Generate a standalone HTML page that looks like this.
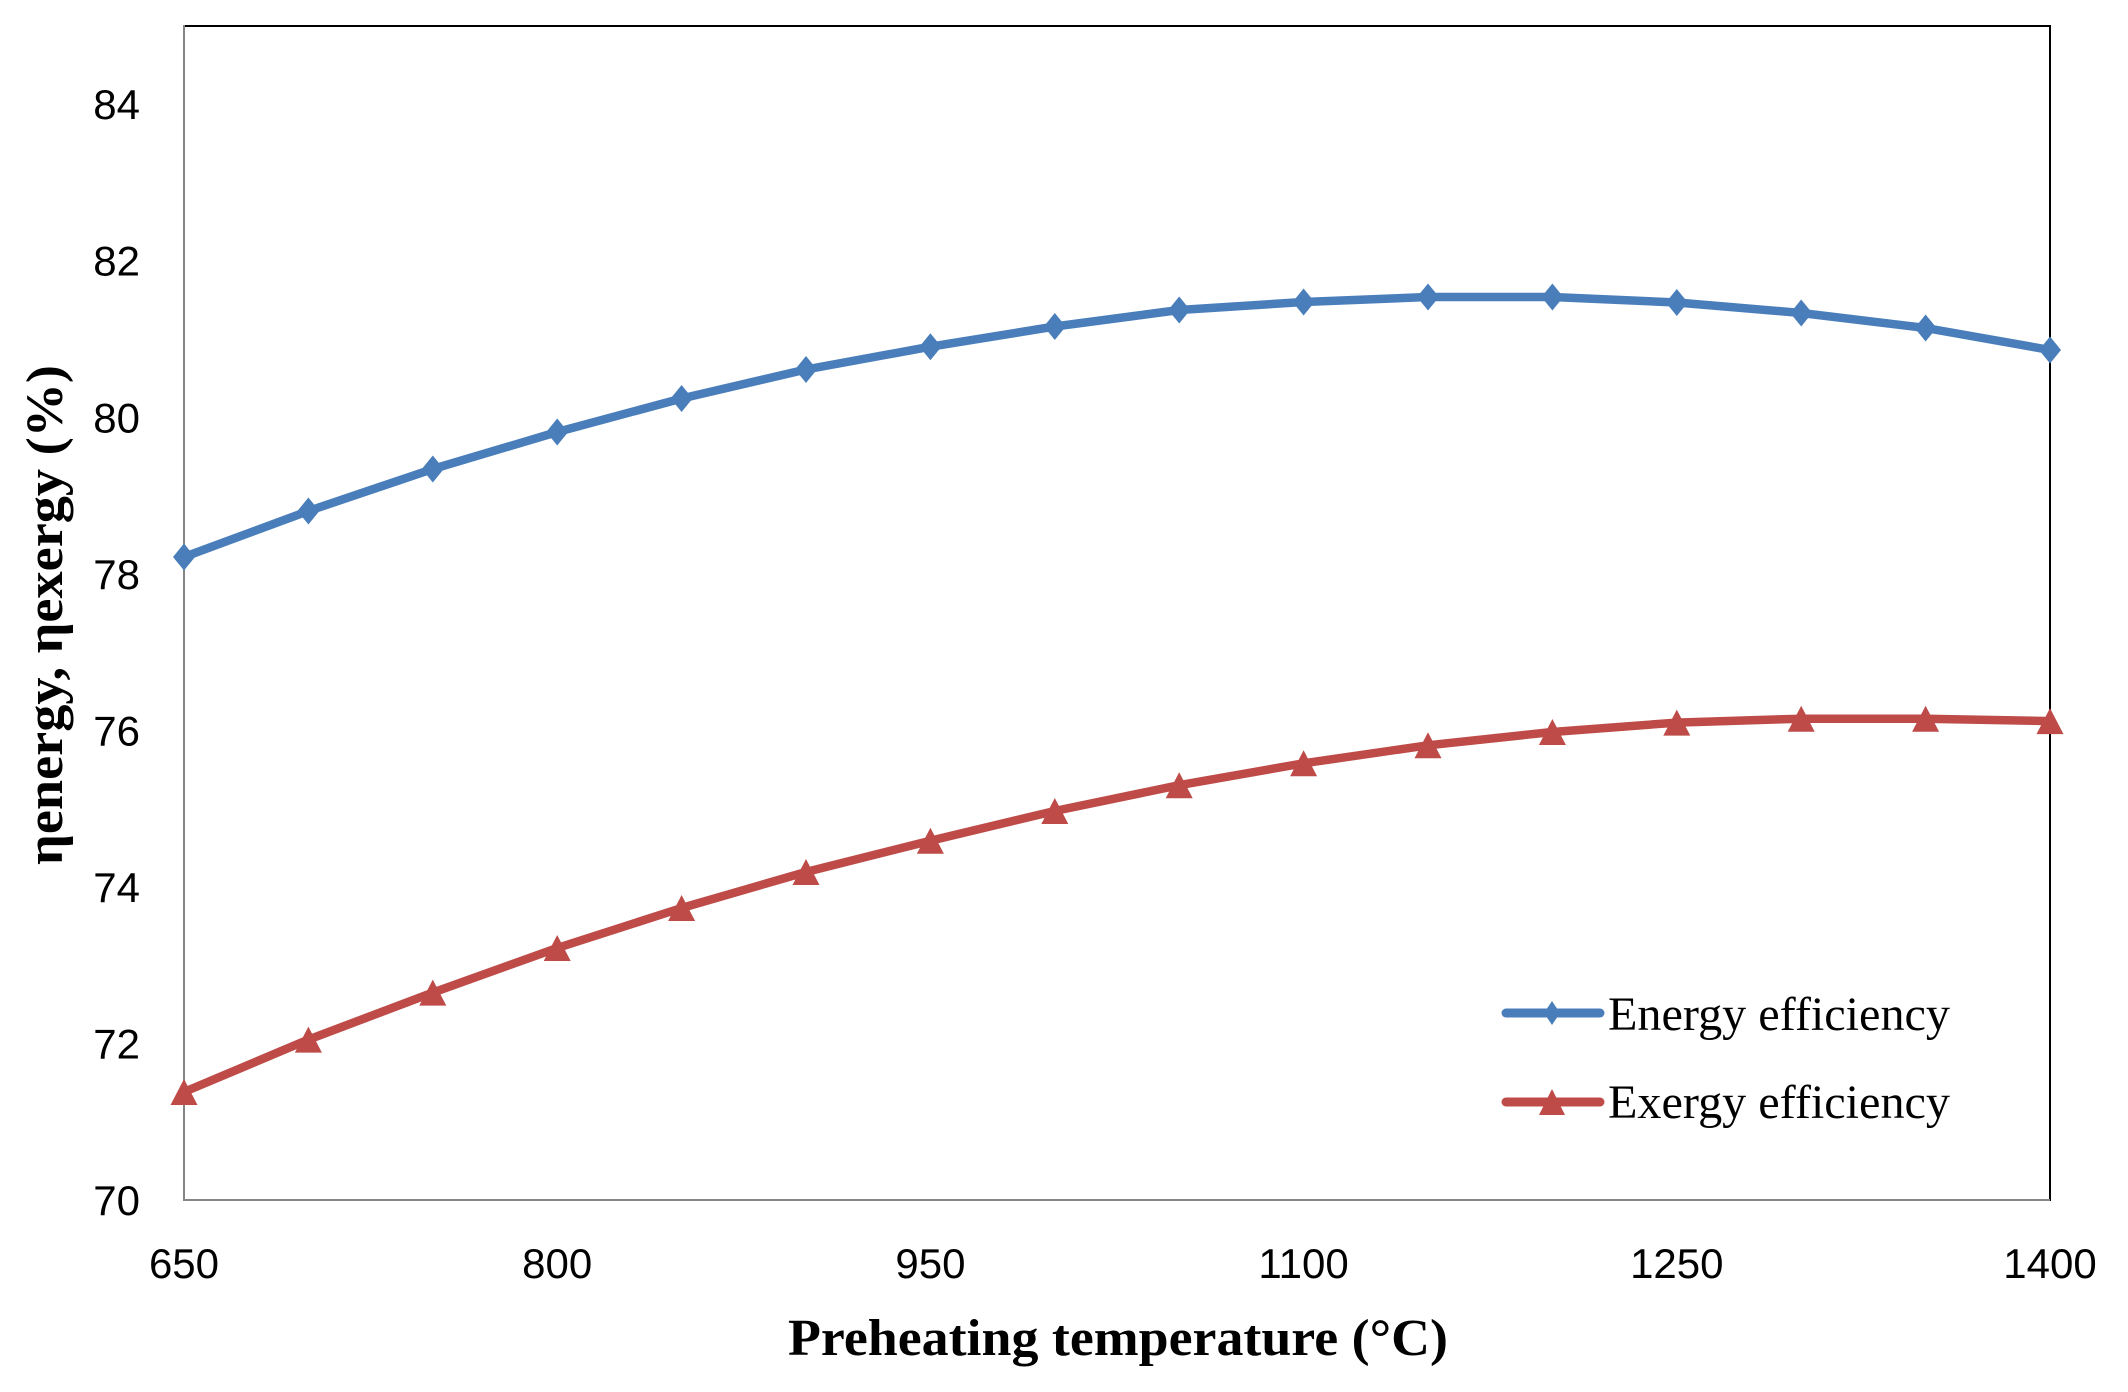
<!DOCTYPE html>
<html>
<head>
<meta charset="utf-8">
<style>
html,body{margin:0;padding:0;background:#fff;}
svg{display:block;}
.tick{font-family:"Liberation Sans",sans-serif;font-size:42px;fill:#000;}
.title{font-family:"Liberation Serif",serif;font-weight:bold;font-size:52px;fill:#000;}
.leg{font-family:"Liberation Serif",serif;font-size:48px;fill:#000;}
</style>
</head>
<body>
<svg width="2128" height="1392" viewBox="0 0 2128 1392" xmlns="http://www.w3.org/2000/svg">
<defs>
  <path id="dia" d="M0,-13.5 L11,0 L0,13.5 L-11,0 Z" fill="#4A7EBB"/>
  <path id="tri" d="M0,-13 L13.5,13 L-13.5,13 Z" fill="#BE4B48"/>
</defs>
<rect width="2128" height="1392" fill="#fff"/>

<!-- plot border: top/right black, left/bottom gray axes -->
<line x1="184" y1="26" x2="2051" y2="26" stroke="#000" stroke-width="2"/>
<line x1="2050" y1="26" x2="2050" y2="1201" stroke="#000" stroke-width="2"/>
<line x1="184" y1="25" x2="184" y2="1201" stroke="#868686" stroke-width="2"/>
<line x1="183" y1="1200" x2="2050" y2="1200" stroke="#868686" stroke-width="2"/>

<!-- y tick labels -->
<g class="tick" text-anchor="end">
  <text x="140" y="1215">70</text>
  <text x="140" y="1058.5">72</text>
  <text x="140" y="902">74</text>
  <text x="140" y="745.4">76</text>
  <text x="140" y="588.8">78</text>
  <text x="140" y="432.3">80</text>
  <text x="140" y="275.7">82</text>
  <text x="140" y="119.2">84</text>
</g>

<!-- x tick labels -->
<g class="tick" text-anchor="middle">
  <text x="184" y="1278">650</text>
  <text x="557.2" y="1278">800</text>
  <text x="930.4" y="1278">950</text>
  <text x="1303.6" y="1278">1100</text>
  <text x="1676.8" y="1278">1250</text>
  <text x="2050" y="1278">1400</text>
</g>

<!-- axis titles -->
<text class="title" x="1118" y="1355" text-anchor="middle" textLength="660" lengthAdjust="spacingAndGlyphs">Preheating temperature (°C)</text>
<text class="title" transform="translate(62,615) rotate(-90)" x="0" y="0" text-anchor="middle" textLength="500" lengthAdjust="spacingAndGlyphs">ηenergy, ηexergy (%)</text>

<!-- Energy series -->
<polyline fill="none" stroke="#4A7EBB" stroke-width="8.5" stroke-linejoin="round" stroke-linecap="round"
 points="184,557 308.4,511 432.8,469 557.2,432 681.6,398.5 806,369.5 930.4,346.7 1054.8,326.5 1179.2,310 1303.6,302 1428,297 1552.4,297 1676.8,302.5 1801.2,313 1925.6,328 2050,350"/>
<g>
  <use href="#dia" x="184" y="557"/>
  <use href="#dia" x="308.4" y="511"/>
  <use href="#dia" x="432.8" y="469"/>
  <use href="#dia" x="557.2" y="432"/>
  <use href="#dia" x="681.6" y="398.5"/>
  <use href="#dia" x="806" y="369.5"/>
  <use href="#dia" x="930.4" y="346.7"/>
  <use href="#dia" x="1054.8" y="326.5"/>
  <use href="#dia" x="1179.2" y="310"/>
  <use href="#dia" x="1303.6" y="302"/>
  <use href="#dia" x="1428" y="297"/>
  <use href="#dia" x="1552.4" y="297"/>
  <use href="#dia" x="1676.8" y="302.5"/>
  <use href="#dia" x="1801.2" y="313"/>
  <use href="#dia" x="1925.6" y="328"/>
  <use href="#dia" x="2050" y="350"/>
</g>

<!-- Exergy series -->
<polyline fill="none" stroke="#BE4B48" stroke-width="8.5" stroke-linejoin="round" stroke-linecap="round"
 points="184,1092 308.4,1039.6 432.8,992.6 557.2,948 681.6,908 806,872 930.4,840.7 1054.8,811 1179.2,785.2 1303.6,763.3 1428,745.3 1552.4,732 1676.8,722.6 1801.2,718.7 1925.6,718.7 2050,721.1"/>
<g>
  <use href="#tri" x="184" y="1092"/>
  <use href="#tri" x="308.4" y="1039.6"/>
  <use href="#tri" x="432.8" y="992.6"/>
  <use href="#tri" x="557.2" y="948"/>
  <use href="#tri" x="681.6" y="908"/>
  <use href="#tri" x="806" y="872"/>
  <use href="#tri" x="930.4" y="840.7"/>
  <use href="#tri" x="1054.8" y="811"/>
  <use href="#tri" x="1179.2" y="785.2"/>
  <use href="#tri" x="1303.6" y="763.3"/>
  <use href="#tri" x="1428" y="745.3"/>
  <use href="#tri" x="1552.4" y="732"/>
  <use href="#tri" x="1676.8" y="722.6"/>
  <use href="#tri" x="1801.2" y="718.7"/>
  <use href="#tri" x="1925.6" y="718.7"/>
  <use href="#tri" x="2050" y="721.1"/>
</g>

<!-- Legend -->
<line x1="1506" y1="1013" x2="1600" y2="1013" stroke="#4A7EBB" stroke-width="9" stroke-linecap="round"/>
<path d="M1552,1001 L1560,1013 L1552,1025 L1544,1013 Z" fill="#4A7EBB"/>
<text class="leg" x="1608" y="1030" textLength="342" lengthAdjust="spacingAndGlyphs">Energy efficiency</text>

<line x1="1506" y1="1102" x2="1600" y2="1102" stroke="#BE4B48" stroke-width="9" stroke-linecap="round"/>
<path d="M1552,1089 L1565,1115 L1539,1115 Z" fill="#BE4B48"/>
<text class="leg" x="1608" y="1118" textLength="342" lengthAdjust="spacingAndGlyphs">Exergy efficiency</text>
</svg>
</body>
</html>
